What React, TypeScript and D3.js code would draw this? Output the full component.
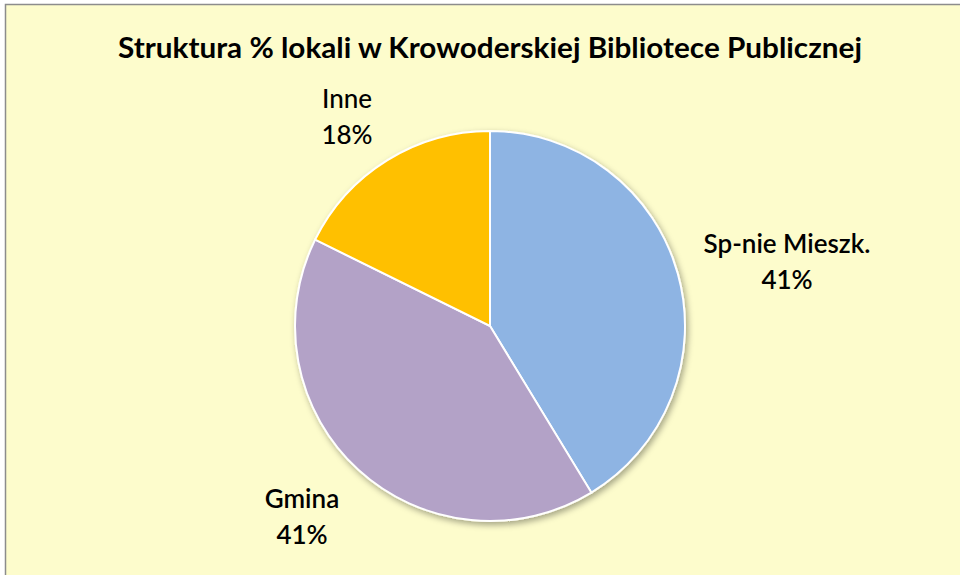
import React from "react";
import * as d3 from "d3";

const categories = ["Sp-nie Mieszk.", "Gmina", "Inne"];
const values = [41.3, 41.0, 17.7];
const percentLabels = ["41%", "41%", "18%"];
const colors = ["#8EB4E3", "#B3A2C7", "#FFC000"];
const title = "Struktura % lokali w Krowoderskiej Bibliotece Publicznej";

const W = 960, H = 575;
const cx = 490, cy = 326, R = 195;
// label layout: centre x and first-line baseline y (absolute)
const labelPos = [
  { x: 787, y: 253, w: 600 },
  { x: 302, y: 508, w: 600 },
  { x: 347, y: 108, w: 500 },
];

export default function App() {
  const pie = d3.pie<number>().sort(null).value(d => d)(values);
  const arc = d3.arc<d3.PieArcDatum<number>>().innerRadius(0).outerRadius(R);
  const font = "Lato, 'Open Sans', sans-serif";
  return (
    <svg width={W} height={H} style={{ position: "absolute", left: 0, top: 0 }}>
      <defs>
        <filter id="sh" x="-20%" y="-20%" width="140%" height="140%">
          <feDropShadow dx="2" dy="3" stdDeviation="3" floodColor="#000" floodOpacity="0.35" />
        </filter>
      </defs>
      <rect x={0} y={0} width={W} height={H} fill="#ffffff" />
      <rect x={5.5} y={4.5} width={W} height={H} fill="#FDFCCC" stroke="#8c8c8c" strokeWidth={1.5} />
      <text x={490} y={58} textAnchor="middle" fontFamily={font} fontWeight="bold" fontSize={28}
        textLength={744} lengthAdjust="spacingAndGlyphs" fill="#000">{title}</text>
      <g transform={`translate(${cx},${cy})`}>
        <g filter="url(#sh)">
          {pie.map((p, i) => (
            <path key={i} d={arc(p) || ""} fill={colors[i]} stroke="#fff" strokeWidth={2} />
          ))}
        </g>
      </g>
      {categories.map((c, i) => (
        <text key={i} textAnchor="middle" fontFamily={font} fontSize={26} fontWeight={labelPos[i].w} fill="#000">
          <tspan x={labelPos[i].x} y={labelPos[i].y}>{c}</tspan>
          <tspan x={labelPos[i].x} y={labelPos[i].y + 36}>{percentLabels[i]}</tspan>
        </text>
      ))}
    </svg>
  );
}
